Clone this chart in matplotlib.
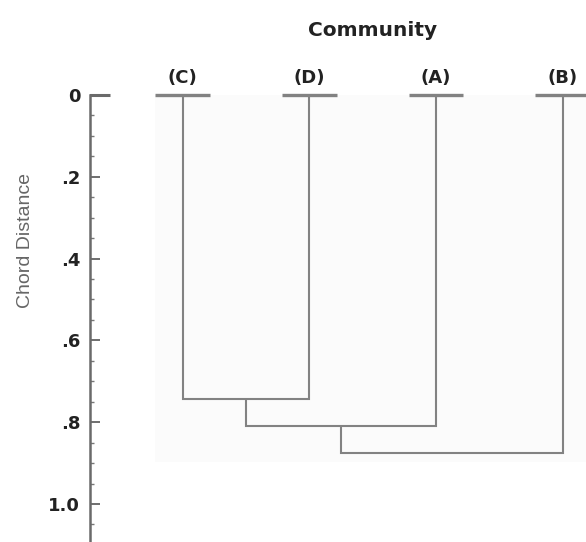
import matplotlib
matplotlib.use("Agg")
import matplotlib.pyplot as plt
from matplotlib.ticker import FixedLocator, FixedFormatter, MultipleLocator
from matplotlib.transforms import blended_transform_factory
from matplotlib.patches import Rectangle

# ---- data ----
leaf_labels = ["(C)", "(D)", "(A)", "(B)"]
# merges: node ids 0..3 are leaves, merges create nodes 4, 5, 6
merge_left = [0, 4, 5]
merge_right = [1, 2, 3]
merge_height = [0.743, 0.809, 0.875]
ytick_values = [0, 0.2, 0.4, 0.6, 0.8, 1.0]
ytick_labels = ["0", ".2", ".4", ".6", ".8", "1.0"]
title = "Community"
ylabel = "Chord Distance"

line_col = "#828282"
fig = plt.figure(figsize=(5.86, 5.42), dpi=100)
ax = fig.add_axes([90 / 586, 0.0, 496 / 586, 447 / 542])

# node positions
xpos = {i: float(i + 1) for i in range(len(leaf_labels))}
ypos = {i: 0.0 for i in range(len(leaf_labels))}
for k, (l, r, h) in enumerate(zip(merge_left, merge_right, merge_height)):
    node = len(leaf_labels) + k
    xl, xr = xpos[l], xpos[r]
    ax.plot([xl, xl, xr, xr], [ypos[l], h, h, ypos[r]], color=line_col,
            lw=1.5, solid_joinstyle="miter", solid_capstyle="butt", zorder=3)
    xpos[node] = (xl + xr) / 2
    ypos[node] = h

bar_half = 0.215
leaf_x = [xpos[i] for i in range(len(leaf_labels))]
for x in leaf_x:
    ax.plot([x - bar_half, x + bar_half], [0, 0], color=line_col, lw=2.4,
            solid_capstyle="butt", clip_on=False, zorder=4)

ax.set_xlim(0.268, 4.184)
ax.set_ylim(1.093, 0)

# faint background panel
ax.add_patch(Rectangle((leaf_x[0] - bar_half, 0), 10, max(merge_height) + 0.022,
                       facecolor="#fbfbfb", edgecolor="none", zorder=0))

# leaf labels and title
tr = blended_transform_factory(ax.transData, fig.transFigure)
for x, lab in zip(leaf_x, leaf_labels):
    ax.text(x, 1 - 78 / 542, lab, transform=tr, ha="center", va="center",
            fontsize=13, fontweight="bold", color="#222222",
            family="DejaVu Sans")
ax.text(sum(leaf_x) / len(leaf_x), 1 - 31 / 542, title, transform=tr,
        ha="center", va="center", fontsize=14.5, fontweight="bold",
        color="#222222", family="DejaVu Sans")

# axes styling
for s in ["top", "right", "bottom"]:
    ax.spines[s].set_visible(False)
ax.spines["left"].set_color("#6a6a6a")
ax.spines["left"].set_linewidth(1.8)
ax.set_xticks([])
ax.yaxis.set_major_locator(FixedLocator(ytick_values))
ax.yaxis.set_major_formatter(FixedFormatter(ytick_labels))
ax.yaxis.set_minor_locator(MultipleLocator(0.05))
ax.tick_params(axis="y", which="major", direction="in", length=7, width=1.2,
               color="#555555", pad=7, labelsize=13, labelcolor="#222222")
ax.tick_params(axis="y", which="minor", direction="in", length=3, width=1.0,
               color="#777777")
for t in ax.get_yticklabels():
    t.set_fontweight("bold")
    t.set_family("DejaVu Sans")

# top cap of the axis at 0
capt = blended_transform_factory(ax.transAxes, ax.transData)
ax.plot([0, 20 / 496], [0, 0], color="#6a6a6a", lw=2.2, transform=capt,
        clip_on=False, solid_capstyle="butt", zorder=5)

ax.set_ylabel(ylabel, fontsize=14, color="#666666", family="Liberation Sans")
ax.yaxis.label.set_va("center")
ax.yaxis.set_label_coords((26 - 90) / 496, (542 - 240) / 447)

fig.savefig("out.png", dpi=100, facecolor="white")
